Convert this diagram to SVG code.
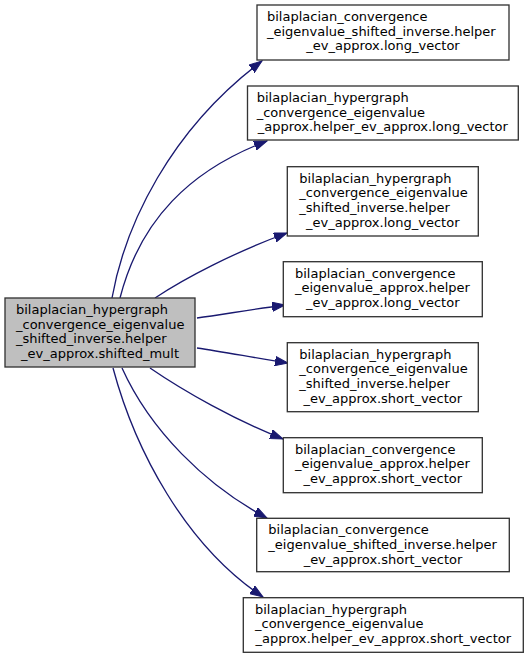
<svg xmlns="http://www.w3.org/2000/svg" width="528" height="659" viewBox="0 0 528 659">
<style>
.n rect{fill:#ffffff;stroke:#333333;stroke-width:1.33}
.root rect{fill:#bfbfbf}
text{font-family:"DejaVu Sans",sans-serif;font-size:13px;fill:#000000}
.m{text-anchor:middle}
.e path{fill:none;stroke:#191970;stroke-width:1.33}
</style>
<defs>
<marker id="ah" markerUnits="userSpaceOnUse" markerWidth="14" markerHeight="10" refX="13" refY="5" orient="auto">
<path d="M0,0.3 L13,5 L0,9.7 Z" fill="#191970" stroke="#191970" stroke-width="1"/>
</marker>
</defs>
<g class="e" id="edges">
<path marker-end="url(#ah)" d="M112,298 C125,225 170,130 262,61"/>
<path marker-end="url(#ah)" d="M120,298 C140,220 190,170 267,141"/>
<path marker-end="url(#ah)" d="M155,298 C185,278 235,252 287,233"/>
<path marker-end="url(#ah)" d="M197,318 C225,314 255,309 285,305"/>
<path marker-end="url(#ah)" d="M197,348 C225,352 255,358 288,363"/>
<path marker-end="url(#ah)" d="M150,368 C185,392 235,420 283,439"/>
<path marker-end="url(#ah)" d="M122,368 C150,430 205,485 267,518"/>
<path marker-end="url(#ah)" d="M113,368 C135,450 185,545 263,597"/>
</g>
<g class="n root" id="node0">
<rect x="5" y="298" width="190" height="69"/>
<text x="16" y="314">bilaplacian_hypergraph</text>
<text x="16" y="328.7">_convergence_eigenvalue</text>
<text x="16" y="343.3">_shifted_inverse.helper</text>
<text class="m" x="100" y="358">_ev_approx.shifted_mult</text>
</g>
<g class="n" id="node1">
<rect x="257" y="5" width="252" height="55"/>
<text x="267" y="21">bilaplacian_convergence</text>
<text x="267" y="35.7">_eigenvalue_shifted_inverse.helper</text>
<text class="m" x="383" y="50.3">_ev_approx.long_vector</text>
</g>
<g class="n" id="node2">
<rect x="247.5" y="86" width="270.8" height="54"/>
<text x="256.7" y="102">bilaplacian_hypergraph</text>
<text x="256.7" y="116.7">_convergence_eigenvalue</text>
<text class="m" x="382.8" y="131.3">_approx.helper_ev_approx.long_vector</text>
</g>
<g class="n" id="node3">
<rect x="287.3" y="166.7" width="191" height="69.3"/>
<text x="299.3" y="182.7">bilaplacian_hypergraph</text>
<text x="299.3" y="197.3">_convergence_eigenvalue</text>
<text x="299.3" y="212">_shifted_inverse.helper</text>
<text class="m" x="382.8" y="226.7">_ev_approx.long_vector</text>
</g>
<g class="n" id="node4">
<rect x="283.3" y="261.7" width="199" height="55"/>
<text x="295" y="277.7">bilaplacian_convergence</text>
<text x="295" y="292.3">_eigenvalue_approx.helper</text>
<text class="m" x="382.8" y="307">_ev_approx.long_vector</text>
</g>
<g class="n" id="node5">
<rect x="287.3" y="342.7" width="191" height="69"/>
<text x="299.3" y="358.7">bilaplacian_hypergraph</text>
<text x="299.3" y="373.3">_convergence_eigenvalue</text>
<text x="299.3" y="388">_shifted_inverse.helper</text>
<text class="m" x="382.8" y="402.7">_ev_approx.short_vector</text>
</g>
<g class="n" id="node6">
<rect x="283.3" y="437.7" width="199" height="55"/>
<text x="295" y="453.7">bilaplacian_convergence</text>
<text x="295" y="468.3">_eigenvalue_approx.helper</text>
<text class="m" x="382.8" y="483">_ev_approx.short_vector</text>
</g>
<g class="n" id="node7">
<rect x="256.7" y="518.3" width="252.6" height="53.4"/>
<text x="268.3" y="534.3">bilaplacian_convergence</text>
<text x="268.3" y="549">_eigenvalue_shifted_inverse.helper</text>
<text class="m" x="383" y="563.7">_ev_approx.short_vector</text>
</g>
<g class="n" id="node8">
<rect x="243.3" y="597.7" width="280" height="54.6"/>
<text x="255" y="613.7">bilaplacian_hypergraph</text>
<text x="255" y="628.3">_convergence_eigenvalue</text>
<text class="m" x="383.3" y="643">_approx.helper_ev_approx.short_vector</text>
</g>
</svg>
